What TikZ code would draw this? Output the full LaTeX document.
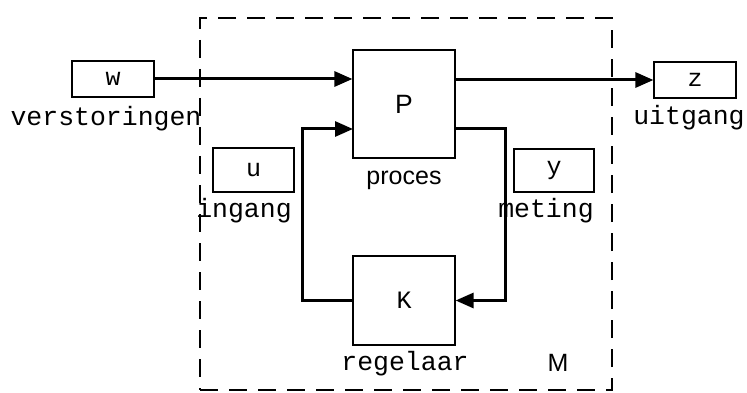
\documentclass[tikz,border=0pt]{standalone}
\usepackage{fontspec}
\setmainfont{Liberation Sans}
\newfontfamily\courierfont{Liberation Mono}
\usetikzlibrary{arrows.meta}
\begin{document}
\begin{tikzpicture}[x=1pt,y=-1pt,
  blk/.style={draw, line width=1.2pt, inner sep=0pt, font=\courierfont\fontsize{25}{25}\selectfont},
  mono/.style={inner sep=0pt, anchor=base, font=\courierfont\fontsize{26.5}{26.5}\selectfont},
  sans/.style={inner sep=0pt, anchor=base, font=\fontsize{25}{25}\selectfont},
  sig/.style={line width=3pt},
  arr/.style={sig, -{Triangle[length=18pt,width=15pt]}},
  frame/.style={line width=1.8pt, dash pattern=on 18pt off 11pt}]
\useasboundingbox (0,0) rectangle (747,393);
% dashed frame M
\node[frame, draw, minimum width=412pt, minimum height=372pt, inner sep=0pt] (Mbox) at (406,204) {};
% blocks
\node[blk, minimum width=82pt, minimum height=36pt] (w) at (113,79) {w};
\node[blk, minimum width=82pt, minimum height=36pt] (z) at (695,80) {z};
\node[blk, minimum width=81pt, minimum height=44pt] (u) at (253.5,170) {u};
\node[blk, minimum width=80pt, minimum height=43pt] (y) at (554,170.5) {y};
\node[blk, minimum width=102pt, minimum height=108pt, font=\fontsize{26.5}{26.5}\selectfont] (P) at (404,104) {P};
\node[blk, minimum width=102pt, minimum height=89pt] (K) at (404,300.5) {K};
% labels
\node[mono] (lw) at (106,126) {verstoringen};
\node[mono] (lu) at (244,217) {ingang};
\node[mono] (ly) at (546,217) {meting};
\node[mono] (lz) at (689,125) {uitgang};
\node[mono] (lk) at (405,370) {regelaar};
\node[sans] (lp) at (404,185) {proces};
\node[sans] (lm) at (558,371) {M};
% connector points
\coordinate (pin) at (353,129);
\coordinate (pout) at (455,129);
% connectors
\draw[arr] (w.east) -- (w.east -| P.west);
\draw[arr] (P.east |- z.west) -- (z.west);
\draw[arr] (pout) -- ++(50,0) |- (K.east);
\draw[arr] (K.west) -- ++(-50,0) |- (pin);
\end{tikzpicture}
\end{document}
